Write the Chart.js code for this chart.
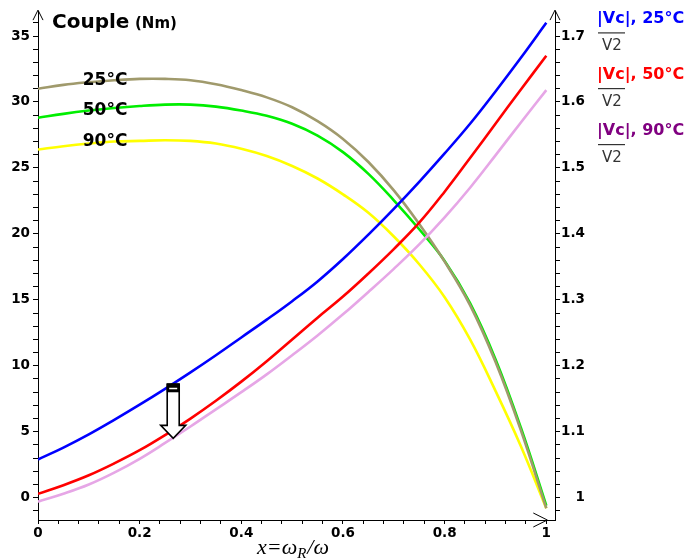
<!DOCTYPE html>
<html><head><meta charset="utf-8">
<script src="https://cdn.jsdelivr.net/npm/chart.js@4/dist/chart.umd.min.js"></script>
<style>html,body{margin:0;padding:0;background:#fff;}canvas{display:block;}</style>
</head><body>
<canvas id="c" width="687" height="560"></canvas>
<script>
// x = omega_R / omega
const xValues = [0, 0.05, 0.1, 0.15, 0.2, 0.25, 0.3, 0.35, 0.4, 0.45, 0.5,
                 0.55, 0.6, 0.65, 0.7, 0.75, 0.8, 0.85, 0.9, 0.95, 1.0];

// Couple (Nm), left axis
const couple25 = [31.0, 31.3, 31.5, 31.65, 31.75, 31.75, 31.65, 31.35, 30.9, 30.35, 29.6,
                  28.55, 27.2, 25.45, 23.3, 20.75, 17.9, 14.6, 10.3, 5.1, -0.8];
const couple50 = [28.8, 29.1, 29.35, 29.55, 29.7, 29.8, 29.8, 29.65, 29.35, 28.95, 28.35,
                  27.45, 26.2, 24.55, 22.55, 20.35, 17.95, 14.75, 10.5, 5.3, -0.6];
const couple90 = [26.4, 26.65, 26.85, 27.0, 27.05, 27.1, 27.05, 26.85, 26.45, 25.9, 25.15,
                  24.2, 23.0, 21.6, 19.8, 17.7, 15.2, 12.0, 8.1, 3.9, -0.8];

// |Vc|/V2, right axis
const vc25 = [1.058, 1.076, 1.096, 1.118, 1.141, 1.165, 1.190, 1.216, 1.243, 1.270, 1.298,
              1.328, 1.362, 1.399, 1.438, 1.479, 1.522, 1.567, 1.616, 1.667, 1.720];
const vc50 = [1.006, 1.019, 1.034, 1.052, 1.072, 1.095, 1.120, 1.147, 1.176, 1.207, 1.240,
              1.273, 1.305, 1.340, 1.377, 1.417, 1.464, 1.515, 1.567, 1.619, 1.670];
const vc90 = [0.994, 1.006, 1.020, 1.038, 1.059, 1.083, 1.108, 1.134, 1.160, 1.187, 1.216,
              1.246, 1.278, 1.312, 1.347, 1.384, 1.425, 1.470, 1.519, 1.569, 1.618];

// text
const leftTitle = 'Couple';
const leftUnit = '(Nm)';
const tempLabels = ['25°C', '50°C', '90°C'];
const tempLabelX = 0.132;
const tempLabelY = [31.7, 29.4, 27.05];
const vcLegend = ['|Vc|, 25°C', '|Vc|, 50°C', '|Vc|, 90°C'];
const vcDenominator = 'V2';

// arrow annotation (data units)
const arrowX = 0.266;
const arrowFrom = 8.6;
const arrowTo = 4.5;

// axis ranges
const xMin = 0, xMax = 1.0171;
const yMin = -1.69, yMax = 36.89;
const y2Min = 0.9662, y2Max = 1.7378;

const tickFont = { family: 'DejaVu Sans', weight: 'bold', size: 13.5 };

function series(vals) { return xValues.map((x, i) => ({ x: x, y: vals[i] })); }
function ds(label, vals, color, axis) {
  return { label, data: series(vals), yAxisID: axis, borderColor: color, backgroundColor: color,
    borderWidth: 2.6, pointRadius: 0, tension: 0.4, fill: false };
}

const decorPlugin = {
  id: 'decor',
  afterDraw(chart) {
    const ctx = chart.ctx;
    const ca = chart.chartArea;
    const sx = chart.scales.x, sy = chart.scales.y;
    ctx.save();
    ctx.strokeStyle = '#000'; ctx.lineWidth = 1;
    // top arrows of vertical axes
    [ca.left, ca.right].forEach(px => {
      ctx.beginPath();
      ctx.moveTo(px - 5, ca.top + 9); ctx.lineTo(px, ca.top - 1); ctx.lineTo(px + 5, ca.top + 9);
      ctx.stroke();
    });
    // x axis arrow at x = 1
    const xa = sx.getPixelForValue(1);
    ctx.beginPath();
    ctx.moveTo(xa - 13, ca.bottom - 7); ctx.lineTo(xa + 1, ca.bottom); ctx.lineTo(xa - 13, ca.bottom + 7);
    ctx.stroke();

    // hollow arrow annotation
    const xp = sx.getPixelForValue(arrowX);
    const yTop = sy.getPixelForValue(arrowFrom);
    const yTip = sy.getPixelForValue(arrowTo);
    const sh = 6, hh = 12.5, hl = 13;
    ctx.beginPath();
    ctx.moveTo(xp - sh, yTop); ctx.lineTo(xp + sh, yTop); ctx.lineTo(xp + sh, yTip - hl);
    ctx.lineTo(xp + hh, yTip - hl); ctx.lineTo(xp, yTip); ctx.lineTo(xp - hh, yTip - hl);
    ctx.lineTo(xp - sh, yTip - hl); ctx.closePath();
    ctx.fillStyle = '#fff'; ctx.fill();
    ctx.lineWidth = 1.6; ctx.strokeStyle = '#000'; ctx.stroke();
    ctx.fillStyle = '#000'; ctx.fillRect(xp - sh - 0.5, yTop - 1, 2 * sh + 1, 9);
    ctx.fillStyle = '#fff'; ctx.fillRect(xp - sh + 2, yTop + 3.5, 2 * sh - 4, 1.5);

    // title
    ctx.fillStyle = '#000';
    ctx.textBaseline = 'alphabetic';
    ctx.textAlign = 'left';
    ctx.font = 'bold 20px "DejaVu Sans"';
    ctx.fillText(leftTitle, 52, 28);
    ctx.font = 'bold 15px "DejaVu Sans"';
    ctx.fillText(leftUnit, 135, 28);

    // temperature labels near torque curves
    ctx.font = 'bold 17px "DejaVu Sans"';
    ctx.textAlign = 'center'; ctx.textBaseline = 'middle';
    tempLabels.forEach((t, i) => {
      ctx.fillText(t, sx.getPixelForValue(tempLabelX), sy.getPixelForValue(tempLabelY[i]) + 1);
    });

    // right legend
    const colors = ['#0000ff', '#ff0000', '#800080'];
    const base = [23.3, 79, 135];
    ctx.textAlign = 'left'; ctx.textBaseline = 'alphabetic';
    vcLegend.forEach((t, i) => {
      ctx.font = 'bold 16px "DejaVu Sans"';
      ctx.fillStyle = colors[i];
      ctx.fillText(t, 597, base[i]);
      ctx.fillStyle = '#333';
      ctx.fillRect(598, base[i] + 9, 27, 1.2);
      ctx.font = '15px "DejaVu Sans"';
      ctx.textAlign = 'center';
      ctx.fillText(vcDenominator, 612, base[i] + 27);
      ctx.textAlign = 'left';
    });

    // x axis title: x=ω_R/ω
    ctx.fillStyle = '#000';
    const big = 'italic 22px "Liberation Serif"', small = 'italic 15px "Liberation Serif"';
    const p1 = 'x=ω', p2 = 'R', p3 = '/ω';
    ctx.font = big; const w1 = ctx.measureText(p1).width, w3 = ctx.measureText(p3).width;
    ctx.font = small; const w2 = ctx.measureText(p2).width;
    const total = w1 + w2 + 1 + w3;
    let cx = 293 - total / 2;
    const bl = 554;
    ctx.font = big; ctx.fillText(p1, cx, bl); cx += w1;
    ctx.font = small; ctx.fillText(p2, cx, bl + 4); cx += w2 + 1;
    ctx.font = big; ctx.fillText(p3, cx, bl);
    ctx.restore();
  }
};

const axisCommon = {
  grid: { drawOnChartArea: false, drawTicks: true, tickLength: 5, color: '#000', lineWidth: 1 },
  border: { display: true, color: '#000', width: 1 }
};

new Chart(document.getElementById('c'), {
  type: 'line',
  data: {
    datasets: [
      ds('|Vc| 25°C', vc25, '#0000ff', 'y2'),
      ds('|Vc| 50°C', vc50, '#ff0000', 'y2'),
      ds('|Vc| 90°C', vc90, '#e6a6e6', 'y2'),
      ds('Couple 25°C', couple25, '#a09a6c', 'y'),
      ds('Couple 50°C', couple50, '#00ee00', 'y'),
      ds('Couple 90°C', couple90, '#ffff00', 'y')
    ]
  },
  options: {
    responsive: false,
    animation: false,
    devicePixelRatio: 1,
    layout: { padding: { top: 10, right: 102, left: 0, bottom: 0 } },
    plugins: { legend: { display: false }, tooltip: { enabled: false } },
    scales: {
      x: {
        type: 'linear', position: 'bottom', min: xMin, max: xMax,
        grid: { drawOnChartArea: false, drawTicks: true, tickLength: 4, color: '#000', lineWidth: 1 },
        border: { display: true, color: '#000', width: 1 },
        afterFit: s => { s.height = 40; },
        ticks: {
          stepSize: 0.04, autoSkip: false, includeBounds: false, maxRotation: 0, padding: 1,
          color: '#000', font: tickFont,
          callback: v => (Math.abs(v * 5 - Math.round(v * 5)) < 1e-6 ? String(Math.round(v * 5) / 5) : '')
        }
      },
      y: {
        type: 'linear', position: 'left', min: yMin, max: yMax,
        ...axisCommon,
        afterFit: s => { s.width = 38; },
        ticks: {
          stepSize: 1, autoSkip: false, includeBounds: false, padding: 3,
          color: '#000', font: tickFont,
          callback: v => (Math.round(v) % 5 === 0 ? String(Math.round(v)) : '')
        }
      },
      y2: {
        type: 'linear', position: 'right', min: y2Min, max: y2Max,
        ...axisCommon,
        afterFit: s => { s.width = 30; },
        ticks: {
          stepSize: 0.02, autoSkip: false, includeBounds: false, padding: 3, crossAlign: 'far',
          color: '#000', font: tickFont,
          callback: v => (Math.abs(v * 10 - Math.round(v * 10)) < 1e-6 ? String(Math.round(v * 10) / 10) : '')
        }
      }
    }
  },
  plugins: [decorPlugin]
});
</script>
</body></html>
